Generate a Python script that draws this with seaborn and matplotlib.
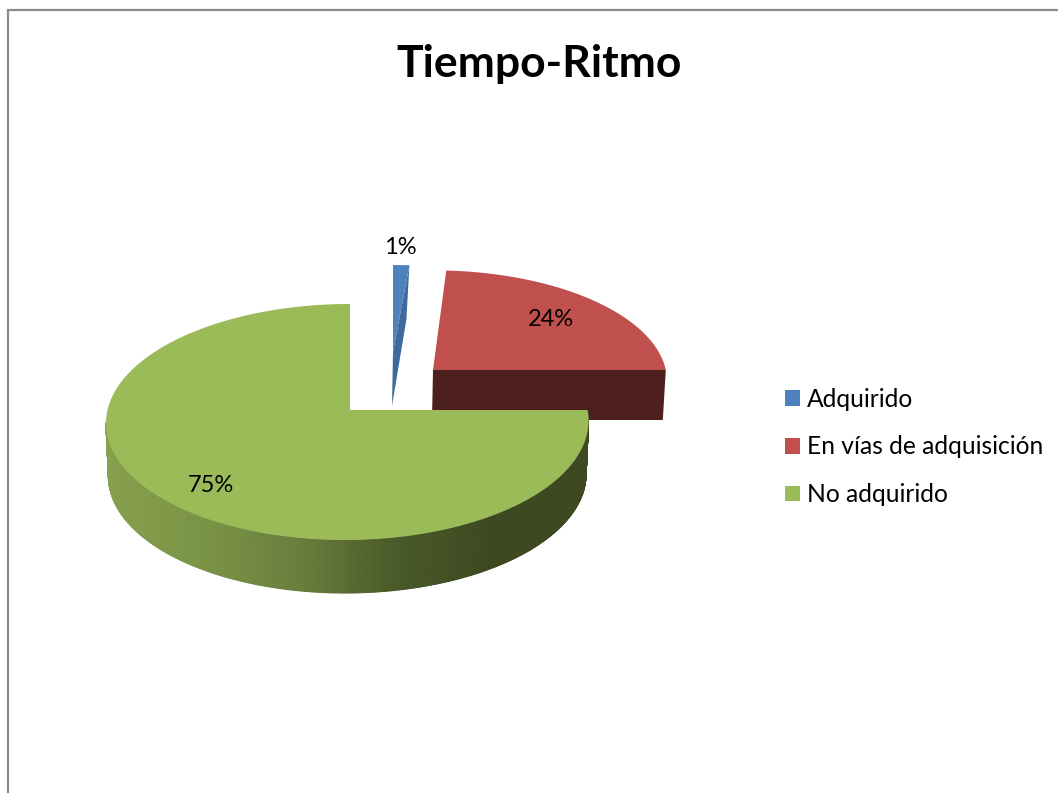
import numpy as np
import matplotlib
matplotlib.use("Agg")
import matplotlib.pyplot as plt
import seaborn as sns
from matplotlib.colors import LinearSegmentedColormap
from matplotlib.patches import Patch

# data
categories = ["Adquirido", "En vías de adquisición", "No adquirido"]
values = [1, 24, 75]
title = "Tiempo-Ritmo"

top_colors = ["#4f81bd", "#c0504d", "#9bbb59"]
wall_colors = ["#3f6a9c", "#4d1f1f", "#3f4a22"]
side_ramp = ["#87a04e", "#7a9446", "#697f3e", "#4a5a29", "#3e4921", "#3e4921"]

# where each exploded slice sits in the picture (apex px, x scale, y scale)
apex_x = [393, 433, 350]
apex_y = [352, 370, 410]
scale_x = [1.2, 0.97, 1.0]
scale_y = [0.82, 0.94, 1.0]
skew = [0, 0, 2.5]
label_x = [400, 551, 211]
label_y = [247, 319, 486]

rx, ry, persp = 240, 116.8, 0.1016
depth = [54, 50, 53]

sns.set_theme(style="white")
plt.rcParams["font.family"] = ["Lato", "DejaVu Sans"]

fig, ax = plt.subplots(figsize=(10.58, 7.93), dpi=100)
ax.set_position([0, 0, 1, 1])

wedges, _ = ax.pie(values, colors=top_colors, startangle=90, counterclock=False)
thetas = [(w.theta1, w.theta2) for w in wedges]
for w in wedges:
    w.remove()
ax.set_aspect("auto")
ax.set_xlim(0, 1058)
ax.set_ylim(793, 0)
ax.axis("off")

def project(t, r, i):
    # squashed circle with the front nearer than the back
    ux, uy = r * np.cos(t), r * np.sin(t)
    d = 1 + persp * uy
    x = apex_x[i] + scale_x[i] * rx * ux / d - skew[i] * (r - uy)
    return x, apex_y[i] - scale_y[i] * ry * uy / d

side_cmap = LinearSegmentedColormap.from_list("side", side_ramp)

# chart frame, cut off by the picture on the right and at the bottom
ax.plot([8, 8, 1070], [810, 10, 10], color="#8a8a8a", lw=1.6, solid_joinstyle="miter")

for i, (t1, t2) in enumerate(thetas):
    t = np.radians(np.linspace(t1, t2, 400))
    px, py = project(t, 1.0, i)
    ax0, ay0 = project(np.array([0.0]), 0.0, i)
    if i < 2:
        # flat cut of the exploded slice facing the viewer
        ax.fill([ax0[0], px[0], px[0] - 3, ax0[0] - 1],
                [ay0[0], py[0], py[0] + depth[i], ay0[0] + depth[i]],
                color=wall_colors[i], lw=0)
    else:
        # curved side of the big slice, shaded from left to right
        t_side = np.radians(np.linspace(-174, 0, 500))
        sx, sy = project(t_side, 1.0, i)
        bx = apex_x[i] + (sx - apex_x[i]) * 0.99
        by = sy + depth[i]
        shade = (sx - 106) / (589 - 106)
        ax.pcolormesh(np.vstack([sx, bx]), np.vstack([sy, by]), np.vstack([shade, shade]),
                      shading="gouraud", cmap=side_cmap, vmin=0, vmax=1)
    ax.fill(np.r_[ax0, px], np.r_[ay0, py], color=top_colors[i], lw=0)

for i, v in enumerate(values):
    ax.text(label_x[i], label_y[i], f"{v}%", ha="center", va="center", fontsize=17, color="black")

ax.text(539, 64, title, ha="center", va="center", fontsize=32, fontweight="bold", color="black")

handles = [Patch(facecolor=c, edgecolor="none") for c in top_colors]
ax.legend(handles, categories, loc="center left", bbox_to_anchor=(773, 447),
          bbox_transform=ax.transData, frameon=False, fontsize=17.7,
          handlelength=0.61, handleheight=0.61, handletextpad=0.28, labelspacing=1.0,
          labelcolor="black", borderpad=0, borderaxespad=0.5)

fig.savefig("out.png", dpi=100)
